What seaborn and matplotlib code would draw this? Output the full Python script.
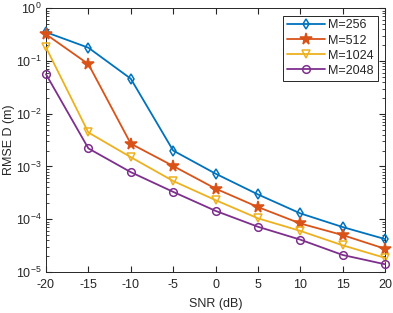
import numpy as np
import pandas as pd
import seaborn as sns
import matplotlib
matplotlib.use("Agg")
import matplotlib.pyplot as plt
from matplotlib.ticker import LogLocator, NullLocator

snr = [-20, -15, -10, -5, 0, 5, 10, 15, 20]
rmse_256 = [0.35, 0.178, 0.046, 2.0e-3, 7.3e-4, 2.95e-4, 1.29e-4, 7.1e-5, 4.2e-5]
rmse_512 = [0.32, 0.087, 2.7e-3, 1.02e-3, 3.8e-4, 1.7e-4, 8.3e-5, 5.0e-5, 2.75e-5]
rmse_1024 = [0.18, 4.4e-3, 1.5e-3, 5.3e-4, 2.3e-4, 1.04e-4, 6.0e-5, 3.2e-5, 1.85e-5]
rmse_2048 = [0.056, 2.2e-3, 7.8e-4, 3.3e-4, 1.44e-4, 7.2e-5, 4.1e-5, 2.1e-5, 1.4e-5]
labels = ["M=256", "M=512", "M=1024", "M=2048"]

series = [rmse_256, rmse_512, rmse_1024, rmse_2048]
colors = ["#0072BD", "#D95319", "#EDB120", "#7E2F8E"]
markers = ["d", "*", "v", "o"]
msizes = [5.5, 8.5, 6, 5.5]

sns.set_style("ticks")
plt.rcParams['font.family'] = ['Liberation Sans', 'DejaVu Sans']
plt.rcParams['mathtext.fontset'] = 'custom'
plt.rcParams['mathtext.rm'] = 'Liberation Sans'

fig = plt.figure(figsize=(3.93, 3.13), dpi=100)
ax = fig.add_axes([0.117, 0.131, 0.863, 0.843])

for lab, vals, c, m, ms in zip(labels, series, colors, markers, msizes):
    df = pd.DataFrame({"snr": snr, "rmse": vals})
    filled = m == "*"
    sns.lineplot(data=df, x="snr", y="rmse", ax=ax, color=c, marker=m,
                 markersize=ms, markeredgecolor=c, markeredgewidth=1.1,
                 markerfacecolor=c if filled else "none", linewidth=1.3,
                 label=lab, clip_on=False, zorder=3)

ax.set_yscale("log")
ax.set_xlim(-20, 20)
ax.set_ylim(1e-5, 1)
ax.set_xticks(snr)
ax.set_xticklabels([str(s) for s in snr])
ax.xaxis.set_minor_locator(NullLocator())
ax.yaxis.set_major_locator(LogLocator(base=10, numticks=10))
ax.yaxis.set_minor_locator(LogLocator(base=10, subs=np.arange(2, 10), numticks=20))
ax.set_xlabel("SNR (dB)", fontsize=9, color="#262626", labelpad=5)
ax.set_ylabel("RMSE D (m)", fontsize=9, color="#262626", labelpad=1)
ax.tick_params(which="both", direction="in", top=True, right=True,
               labelsize=9, colors="#262626")
ax.tick_params(axis="x", pad=5)
ax.tick_params(axis="y", pad=3)
ax.tick_params(which="major", length=4)
ax.tick_params(which="minor", length=2)
for sp in ax.spines.values():
    sp.set_visible(True)
    sp.set_color("#262626")
    sp.set_linewidth(0.7)

leg = ax.legend(loc="upper right", fontsize=9, frameon=True, fancybox=False,
                handlelength=3.0, borderpad=0.3, labelspacing=0.25,
                handletextpad=0.3, borderaxespad=0.6)
leg.get_frame().set_edgecolor("#262626")
leg.get_frame().set_linewidth(0.7)
leg.get_frame().set_alpha(1)

fig.savefig("out.png", dpi=100)
